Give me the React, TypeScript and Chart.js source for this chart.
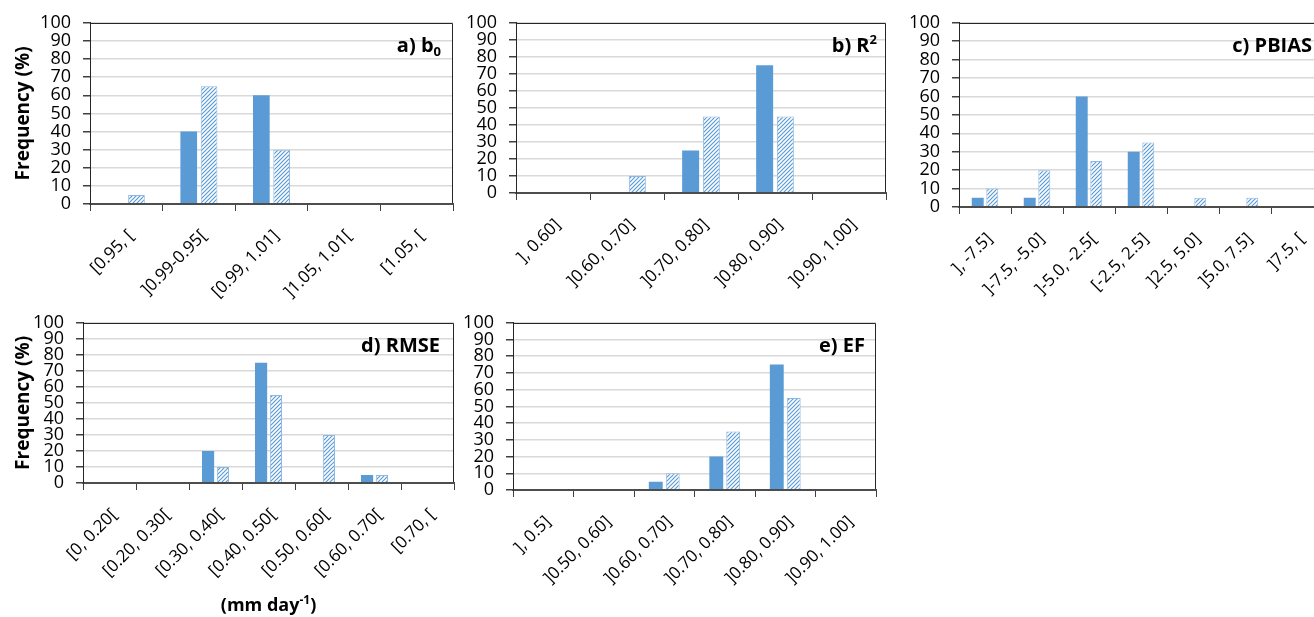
import React, { useEffect, useRef } from 'react';
import { Chart, registerables } from 'chart.js';

Chart.register(...registerables);

// ---------- data ----------
const yTicksMax = 100;
const yTickStep = 10;

const aCategories = ['[0.95, [', ']0.99-0.95[', '[0.99, 1.01]', ']1.05, 1.01[', '[1.05, ['];
const aSolid = [0, 40, 60, 0, 0];
const aHatched = [5, 65, 30, 0, 0];

const bCategories = ['], 0.60]', ']0.60, 0.70]', ']0.70, 0.80]', ']0.80, 0.90]', ']0.90, 1.00]'];
const bSolid = [0, 0, 25, 75, 0];
const bHatched = [0, 10, 45, 45, 0];

const cCategories = ['], -7.5]', ']-7.5, -5.0]', ']-5.0, -2.5[', '[-2.5, 2.5]', ']2.5, 5.0]', ']5.0, 7.5]', ']7.5, ['];
const cSolid = [5, 5, 60, 30, 0, 0, 0];
const cHatched = [10, 20, 25, 35, 5, 5, 0];

const dCategories = ['[0, 0.20[', '[0.20, 0.30[', '[0.30, 0.40[', '[0.40, 0.50[', '[0.50, 0.60[', '[0.60, 0.70[', '[0.70, ['];
const dSolid = [0, 0, 20, 75, 0, 5, 0];
const dHatched = [0, 0, 10, 55, 30, 5, 0];

const eCategories = ['], 0.5]', ']0.50, 0.60]', ']0.60, 0.70]', ']0.70, 0.80]', ']0.80, 0.90]', ']0.90, 1.00]'];
const eSolid = [0, 0, 5, 20, 75, 0];
const eHatched = [0, 0, 10, 35, 55, 0];

const yAxisTitle = 'Frequency (%)';

type Part = { text: string; mode?: 'sub' | 'sup' };

const aTitle: Part[] = [{ text: 'a) b' }, { text: '0', mode: 'sub' }];
const bTitle: Part[] = [{ text: 'b) R' }, { text: '2', mode: 'sup' }];
const cTitle: Part[] = [{ text: 'c) PBIAS' }];
const dTitle: Part[] = [{ text: 'd) RMSE' }];
const eTitle: Part[] = [{ text: 'e) EF' }];
const dUnit: Part[] = [{ text: '(mm day' }, { text: '-1', mode: 'sup' }, { text: ')' }];

// ---------- style ----------
const FAMILY = "'Open Sans', sans-serif";
const SOLID = '#5B9BD5';
const HATCH_LINE = '#5B9BD5';
const HATCH_BORDER = '#8FB8E2';
const X_FONT = 17;
const Y_FONT = 18;
const TITLE_FONT = 19;
const PANEL_TITLE_FONT = 20;
const UNIT_FONT = 18;

Chart.defaults.font.family = FAMILY;
Chart.defaults.font.size = 16;
Chart.defaults.color = '#000';

function drawParts(ctx: CanvasRenderingContext2D, parts: Part[], size: number, x: number, y: number, align: 'right' | 'center') {
  const small = Math.round(size * 0.65);
  const widths = parts.map((p) => {
    ctx.font = `bold ${p.mode ? small : size}px ${FAMILY}`;
    return ctx.measureText(p.text).width;
  });
  const total = widths.reduce((s, w) => s + w, 0);
  let cx = align === 'right' ? x - total : x - total / 2;
  ctx.textAlign = 'left';
  ctx.textBaseline = 'alphabetic';
  ctx.fillStyle = '#000';
  parts.forEach((p, i) => {
    ctx.font = `bold ${p.mode ? small : size}px ${FAMILY}`;
    const yy = p.mode === 'sub' ? y + size * 0.22 : p.mode === 'sup' ? y - size * 0.38 : y;
    ctx.fillText(p.text, cx, yy);
    cx += widths[i];
  });
}

const framePlugin = {
  id: 'frame',
  afterDatasetsDraw(chart: any) {
    const { ctx, chartArea } = chart;
    const { left, top, right, bottom } = chartArea;
    ctx.save();
    ctx.strokeStyle = '#262626';
    ctx.lineWidth = 1;
    ctx.beginPath();
    ctx.moveTo(Math.round(left), Math.round(top) + 0.5);
    ctx.lineTo(Math.round(right) - 0.5, Math.round(top) + 0.5);
    ctx.lineTo(Math.round(right) - 0.5, bottom);
    ctx.stroke();
    ctx.restore();
  },
};

const textPlugin = {
  id: 'panelText',
  afterDraw(chart: any, _args: any, opts: any) {
    const { ctx, chartArea } = chart;
    ctx.save();
    if (opts && opts.title) {
      drawParts(ctx, opts.title, PANEL_TITLE_FONT, chartArea.right - opts.inset, chartArea.top + 29, 'right');
    }
    if (opts && opts.unit) {
      drawParts(ctx, opts.unit, UNIT_FONT, (chartArea.left + chartArea.right) / 2, chart.height - 6, 'center');
    }
    ctx.restore();
  },
};

function makeHatch(): CanvasPattern | string {
  const c = document.createElement('canvas');
  const p = 4;
  c.width = p;
  c.height = p;
  const g = c.getContext('2d');
  if (!g) return '#9DC3E6';
  g.fillStyle = '#ffffff';
  g.fillRect(0, 0, p, p);
  g.strokeStyle = HATCH_LINE;
  g.lineWidth = 1.2;
  g.beginPath();
  g.moveTo(0, p);
  g.lineTo(p, 0);
  g.moveTo(-1, 1);
  g.lineTo(1, -1);
  g.moveTo(p - 1, p + 1);
  g.lineTo(p + 1, p - 1);
  g.stroke();
  return g.createPattern(c, 'repeat') || '#9DC3E6';
}

interface PanelCfg {
  left: number;
  top: number;
  width: number;
  height: number;
  padTop: number;
  padRight: number;
  yWidth: number;
  xHeight: number;
  categories: string[];
  solid: number[];
  hatched: number[];
  title: Part[];
  inset: number;
  showYTitle: boolean;
  unit?: Part[];
}

const panels: PanelCfg[] = [
  { left: 0, top: 0, width: 460, height: 310, padTop: 21, padRight: 7, yWidth: 90, xHeight: 106, categories: aCategories, solid: aSolid, hatched: aHatched, title: aTitle, inset: 12, showYTitle: true },
  { left: 440, top: 0, width: 450, height: 310, padTop: 21, padRight: 4, yWidth: 76, xHeight: 117, categories: bCategories, solid: bSolid, hatched: bHatched, title: bTitle, inset: 9, showYTitle: false },
  { left: 890, top: 0, width: 440, height: 310, padTop: 21, padRight: 7, yWidth: 69, xHeight: 103, categories: cCategories, solid: cSolid, hatched: cHatched, title: cTitle, inset: 11, showYTitle: false },
  { left: 0, top: 300, width: 460, height: 317, padTop: 18, padRight: 6, yWidth: 83, xHeight: 134, categories: dCategories, solid: dSolid, hatched: dHatched, title: dTitle, inset: 14, showYTitle: true, unit: dUnit },
  { left: 440, top: 300, width: 440, height: 317, padTop: 18, padRight: 4, yWidth: 73, xHeight: 127, categories: eCategories, solid: eSolid, hatched: eHatched, title: eTitle, inset: 11, showYTitle: false },
];

function Panel({ cfg }: { cfg: PanelCfg }) {
  const ref = useRef<HTMLCanvasElement>(null);
  useEffect(() => {
    if (!ref.current) return;
    const hatch = makeHatch();
    const chart = new Chart(ref.current, {
      type: 'bar',
      data: {
        labels: cfg.categories,
        datasets: [
          { label: 'Series 1', data: cfg.solid, backgroundColor: SOLID, borderWidth: 0 },
          { label: 'Series 2', data: cfg.hatched, backgroundColor: hatch as any, borderColor: HATCH_BORDER, borderWidth: 1 },
        ],
      },
      options: {
        responsive: false,
        animation: false,
        devicePixelRatio: 1,
        layout: { padding: { top: cfg.padTop, right: cfg.padRight, left: 0, bottom: 0 } },
        datasets: { bar: { categoryPercentage: 0.56, barPercentage: 0.82 } },
        plugins: {
          legend: { display: false },
          tooltip: { enabled: false },
          panelText: { title: cfg.title, inset: cfg.inset, unit: cfg.unit },
        } as any,
        scales: {
          x: {
            grid: { display: true, drawOnChartArea: false, offset: true, tickLength: 7, tickColor: '#404040', color: '#404040' },
            border: { display: true, color: '#4d4d4d', width: 2, z: 1 },
            ticks: { minRotation: 45, maxRotation: 45, autoSkip: false, font: { size: X_FONT }, color: '#000', padding: 15, labelOffset: 5 },
            afterFit: (s: any) => { s.height = cfg.xHeight; },
          },
          y: {
            min: 0,
            max: yTicksMax,
            ticks: { stepSize: yTickStep, autoSkip: false, font: { size: Y_FONT }, color: '#000', padding: 12 },
            grid: { color: '#D9D9D9', lineWidth: 1.5, tickColor: '#404040', tickLength: 7 },
            border: { display: true, color: '#262626', width: 1, z: 1 },
            title: { display: cfg.showYTitle, text: yAxisTitle, font: { size: TITLE_FONT, weight: 'bold' }, color: '#000', padding: { top: 12, bottom: 0 } },
            afterFit: (s: any) => { s.width = cfg.yWidth; },
          },
        },
      } as any,
      plugins: [framePlugin, textPlugin],
    });
    return () => chart.destroy();
  }, [cfg]);
  return (
    <canvas
      ref={ref}
      width={cfg.width}
      height={cfg.height}
      style={{ position: 'absolute', left: cfg.left, top: cfg.top, width: cfg.width, height: cfg.height }}
    />
  );
}

export default function App() {
  return (
    <div style={{ position: 'fixed', left: 0, top: 0, width: 1314, height: 617, overflow: 'hidden', background: '#fff' }}>
      {panels.map((p, i) => (
        <Panel key={i} cfg={p} />
      ))}
    </div>
  );
}
